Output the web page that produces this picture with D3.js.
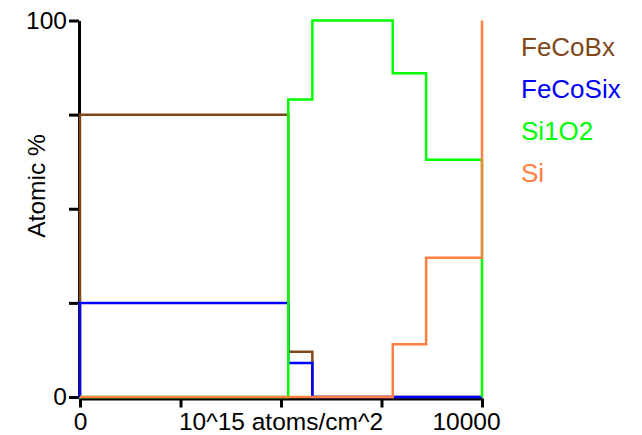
<!DOCTYPE html>
<html>
<head>
<meta charset="utf-8">
<script src="https://cdn.jsdelivr.net/npm/d3@7"></script>
<style>
  html, body { margin: 0; padding: 0; background: #fff; }
  svg { display: block; font-family: "Liberation Sans", Arial, sans-serif; }
</style>
</head>
<body>
<svg id="chart" width="642" height="435"></svg>
<script>
// Depth profile: layer boundaries (10^15 atoms/cm^2) and composition per layer (atomic %)
const layerEdges = [0, 5180, 5780, 7780, 8610, 10000];
const seriesNames = ["FeCoBx", "FeCoSix", "Si1O2", "Si"];
const seriesColors = ["#80471a", "#0000ff", "#00ff00", "#ff8040"];
const feCoBx  = [75, 12, 0, 0, 0];
const feCoSix = [25, 9, 0, 0, 0];
const si1O2   = [0, 79, 100, 86, 63];
const si      = [0, 0, 0, 14, 37];
// composition at the end of the profile (substrate)
const endValues = [0, 0, 0, 100];
const xTicks = [0, 2500, 5000, 7500, 10000];
const yTicks = [0, 25, 50, 75, 100];
const xTitle = "10^15 atoms/cm^2";
const yTitle = "Atomic %";

const seriesValues = [feCoBx, feCoSix, si1O2, si];

const svg = d3.select("#chart");
const x = d3.scaleLinear().domain([0, 10000]).range([80, 482]);
const y = d3.scaleLinear().domain([0, 100]).range([397, 20.5]);

const fontSize = 24.5;

// Axes (drawn slightly outside the plot so the zero lines stay visible)
const xAxis = svg.append("g")
  .attr("transform", `translate(0,${y(0) + 1.5})`)
  .call(d3.axisBottom(x).tickValues(xTicks).tickSize(9).tickPadding(5).tickSizeOuter(0)
    .tickFormat(d => (d === 0 || d === 10000) ? d3.format("d")(d) : ""));
const yAxis = svg.append("g")
  .attr("transform", `translate(${x(0) - 1},0)`)
  .call(d3.axisLeft(y).tickValues(yTicks).tickSize(10).tickPadding(2).tickSizeOuter(0)
    .tickFormat(d => (d === 0 || d === 100) ? d3.format("d")(d) : ""));

[xAxis, yAxis].forEach(g => {
  g.select(".domain").attr("stroke", "#000").attr("stroke-width", 3);
  g.selectAll(".tick line").attr("stroke", "#000").attr("stroke-width", 3);
  g.selectAll(".tick text").attr("fill", "#000").style("font-size", fontSize + "px")
    .style("font-family", "'Liberation Sans', Arial, sans-serif");
});
// the last x label sits a little left of its tick
xAxis.selectAll(".tick text").filter(d => d === 10000).attr("dx", -16);

// Axis titles
svg.append("text")
  .attr("x", x(5000)).attr("y", 430)
  .attr("text-anchor", "middle")
  .style("font-size", fontSize + "px")
  .text(xTitle);
svg.append("text")
  .attr("transform", `translate(45,186) rotate(-90)`)
  .attr("text-anchor", "middle")
  .style("font-size", fontSize + "px")
  .text(yTitle);

// Step profiles
const line = d3.line()
  .x(d => x(d[0]))
  .y(d => y(d[1]))
  .curve(d3.curveStepAfter);

seriesValues.forEach((vals, i) => {
  const pts = [[layerEdges[0], 0]];
  vals.forEach((v, j) => pts.push([layerEdges[j], v]));
  pts.push([layerEdges[layerEdges.length - 1], endValues[i]]);
  svg.append("path")
    .datum(pts)
    .attr("fill", "none")
    .attr("stroke", seriesColors[i])
    .attr("stroke-width", 2.5)
    .attr("d", line);
});

// Legend
const legend = svg.append("g");
seriesNames.forEach((name, i) => {
  legend.append("text")
    .attr("x", 521)
    .attr("y", 56 + i * 42)
    .attr("fill", seriesColors[i])
    .style("font-size", "26px")
    .text(name);
});
</script>
</body>
</html>
